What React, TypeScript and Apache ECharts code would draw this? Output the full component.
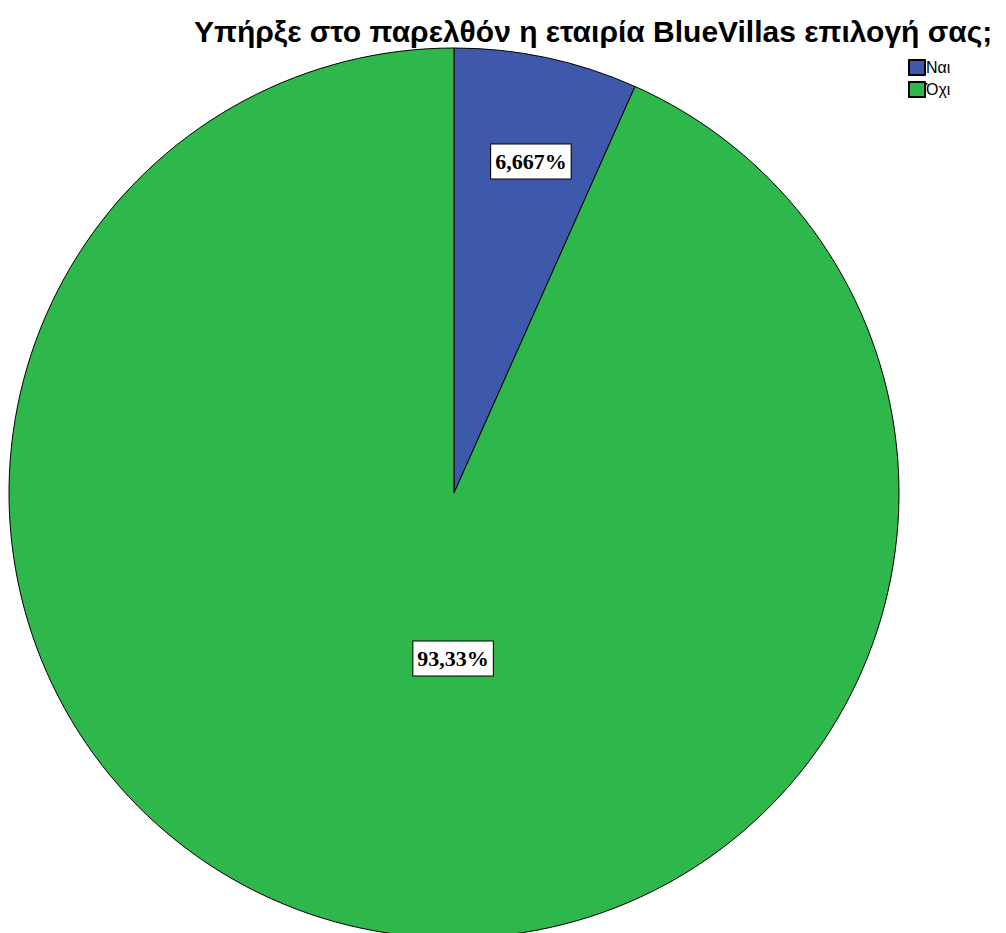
import React, { useEffect, useRef } from "react";
import * as echarts from "echarts";

const titleText = "Υπήρξε στο παρελθόν η εταιρία BlueVillas επιλογή σας;";
const categories = ["Ναι", "Όχι"];
const values = [6.667, 93.33];
const valueLabels = ["6,667%", "93,33%"];
const colors = ["#3E58AC", "#2EB84B"];

export default function App() {
  const ref = useRef<HTMLDivElement>(null);
  useEffect(() => {
    if (!ref.current) return;
    const chart = echarts.init(ref.current, null, { renderer: "svg" });
    const labelOffsets = [
      [30, -111],
      [46, -55],
    ];
    chart.setOption({
      animation: false,
      backgroundColor: "#ffffff",
      title: {
        text: titleText,
        left: 189,
        top: 11,
        textStyle: {
          fontFamily: "Liberation Sans, Arial, sans-serif",
          fontSize: 30,
          fontWeight: "bold",
          color: "#000000",
        },
      },
      legend: {
        orient: "vertical",
        left: 903,
        top: 54,
        itemWidth: 16,
        itemHeight: 15,
        itemGap: 5,
        icon: "rect",
        data: categories,
        textStyle: {
          fontFamily: "Liberation Sans, Arial, sans-serif",
          fontSize: 16,
          color: "#000000",
          padding: [0, 0, 0, -4],
        },
      },
      series: [
        {
          type: "pie",
          center: [454, 493],
          radius: [0, 445],
          startAngle: 90,
          clockwise: true,
          avoidLabelOverlap: false,
          labelLine: { show: false },
          itemStyle: { borderColor: "#000000", borderWidth: 1 },
          emphasis: { disabled: true },
          data: categories.map((name, i) => ({
            name,
            value: values[i],
            itemStyle: { color: colors[i] },
            label: {
              show: true,
              position: "inside",
              formatter: valueLabels[i],
              offset: labelOffsets[i],
              fontFamily: "Liberation Serif, Times New Roman, serif",
              fontWeight: "bold",
              fontSize: 22,
              lineHeight: 22,
              color: "#000000",
              backgroundColor: "#ffffff",
              borderColor: "#000000",
              borderWidth: 1,
              padding: [6, 4, 6, 4],
            },
          })),
        },
      ],
    });
    return () => chart.dispose();
  }, []);
  return (
    <div
      ref={ref}
      style={{ position: "fixed", left: 0, top: 0, width: 1006, height: 933 }}
    />
  );
}
